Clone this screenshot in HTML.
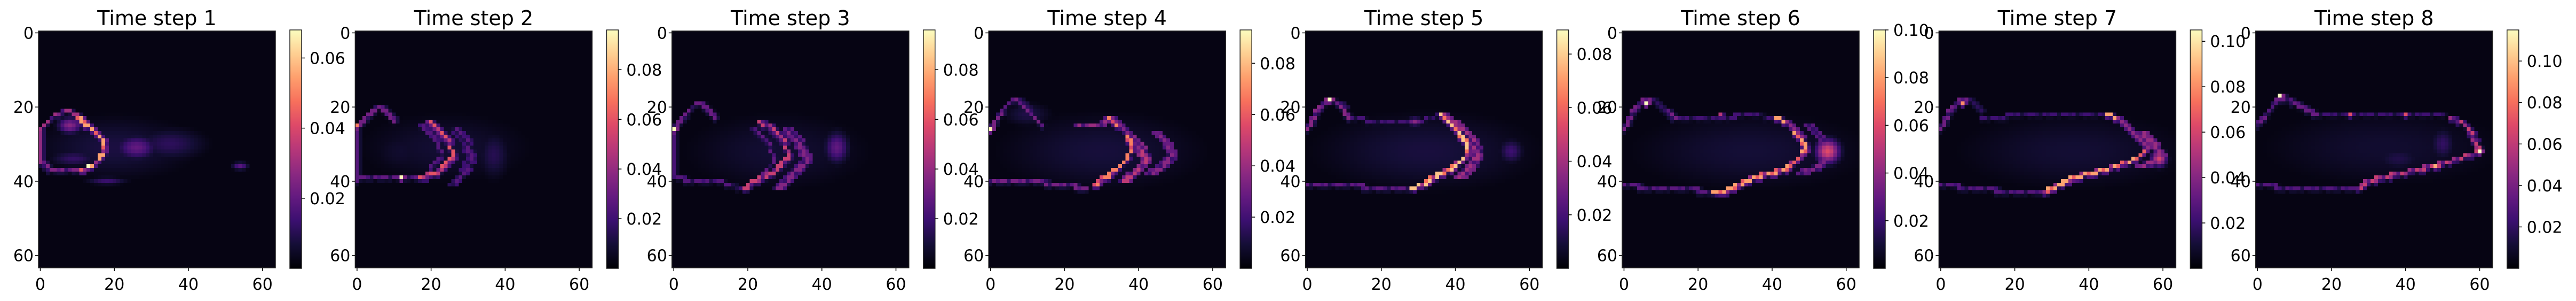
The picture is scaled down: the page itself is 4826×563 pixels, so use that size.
<!DOCTYPE html>
<html><head><meta charset="utf-8">
<style>
html,body{margin:0;padding:0;background:#fff;}
#root{position:relative;width:4826px;height:563px;overflow:hidden;background:#fff;font-family:"DejaVu Sans","Liberation Sans",sans-serif;}
canvas.hm{position:absolute;image-rendering:pixelated;}
.cb{position:absolute;}
svg{position:absolute;left:0;top:0;}
</style></head>
<body>
<div id="root">
<svg id="ov" width="4826" height="563"></svg>
</div>
<script>
// ---- data ----
const titles = ["Time step 1","Time step 2","Time step 3","Time step 4","Time step 5","Time step 6","Time step 7","Time step 8"];
const cbMax = [0.068,0.096,0.096,0.093,0.089,0.100,0.105,0.115];
const cbTicks = [[0.02,0.04,0.06],[0.02,0.04,0.06,0.08],[0.02,0.04,0.06,0.08],[0.02,0.04,0.06,0.08],[0.02,0.04,0.06,0.08],[0.02,0.04,0.06,0.08,0.10],[0.02,0.04,0.06,0.08,0.10],[0.02,0.04,0.06,0.08,0.10]];
const axisTicks = [0,20,40,60];
// polylines: [value, width, [[col,row],...]]
const lines1 = [
 [0.055,1,[[10,23],[13,25],[15,27],[17,29],[17,32],[16,34],[14,36],[11,37]]],
 [0.030,1,[[0,26],[2,24],[4,22],[7,21],[10,22]]],
 [0.025,1,[[0,34],[2,37],[6,37],[11,37]]],
 [0.028,1,[[0,26],[0,35]]],
 [0.068,1,[[13,36],[13,36]]]
];
const blobs1 = [[8,25,3,2,0.026],[26,31,5,3,0.02],[35,30,9,4,0.011],[18,40,5,1,0.013],[54,36,2,1,0.018],[20,31,20,8,0.008],[9,34,6,2,0.012]];
const lines2 = [
 [0.032,1,[[0,26],[3,22],[6,20],[8,21],[10,24]]],
 [0.060,1,[[19,24],[22,26],[25,30],[26,33],[24,36],[21,38],[17,39]]],
 [0.025,1,[[17,25],[21,28],[23,33],[20,37]]],
 [0.028,1,[[0,39],[5,39],[12,39],[17,39]]],
 [0.095,1,[[12,39],[12,39]]],
 [0.025,1,[[0,25],[0,40]]],
 [0.070,1,[[0,25],[0,25]]],
 [0.026,2,[[27,26],[30,30],[31,34],[29,38],[26,41]]]
];
const blobs2 = [[37,33,4,6,0.014],[24,31,22,9,0.009],[12,32,8,6,0.008]];
const lines3 = [
 [0.030,1,[[0,26],[3,22],[6,19],[8,19],[11,23]]],
 [0.052,1,[[23,24],[27,26],[30,30],[31,33],[29,36],[26,38],[22,40],[19,42]]],
 [0.028,1,[[21,26],[26,30],[27,35],[23,39]]],
 [0.036,2,[[31,26],[34,30],[36,34],[33,38],[28,42]]],
 [0.025,1,[[0,39],[6,40],[12,40],[18,42]]],
 [0.022,1,[[0,26],[0,38]]],
 [0.095,1,[[0,26],[0,26]]]
];
const blobs3 = [[44,31,3,4,0.028],[28,32,24,10,0.009]];
const lines4 = [
 [0.032,1,[[0,26],[3,21],[6,18],[8,18],[11,22],[14,25]]],
 [0.040,2,[[24,25],[30,25],[32,23]]],
 [0.068,1,[[32,23],[35,25],[37,27],[38,31],[37,34],[34,37],[31,39],[28,41]]],
 [0.032,1,[[0,40],[10,40],[20,41],[26,42]]],
 [0.048,2,[[38,28],[41,31],[42,35],[39,38],[36,40]]],
 [0.036,2,[[45,27],[48,30],[49,33],[47,36],[43,38]]],
 [0.090,1,[[0,26],[0,26]]]
];
const blobs4 = [[30,32,26,10,0.01],[10,22,6,3,0.012]];
const lines5 = [
 [0.034,1,[[0,26],[3,20],[6,18],[9,19],[11,23]]],
 [0.089,1,[[6,18],[6,18]]],
 [0.078,1,[[36,22],[39,24],[41,27],[43,30],[43,33],[41,35],[38,37],[34,39],[31,41],[28,42]]],
 [0.020,1,[[11,23],[20,24],[30,24],[36,22]]],
 [0.040,2,[[40,24],[44,28],[46,32],[45,36],[41,39]]],
 [0.026,1,[[0,41],[10,41],[20,42],[28,42]]]
];
const blobs5 = [[55,32,3,3,0.018],[29,24,2,1,0.035],[32,32,28,10,0.01]];
const lines6 = [
 [0.034,1,[[0,26],[3,20],[6,18],[8,18],[11,21],[14,23]]],
 [0.100,1,[[6,19],[6,19]]],
 [0.022,1,[[14,23],[25,23],[35,22],[40,23]]],
 [0.050,1,[[26,22],[26,22]]],
 [0.080,1,[[41,23],[44,24],[46,26],[48,29],[49,31],[48,33],[46,35],[43,37],[39,38],[35,39],[31,41],[27,43],[24,43]]],
 [0.036,2,[[50,25],[54,29],[56,33],[53,36],[48,38]]],
 [0.028,1,[[0,41],[8,42],[16,42],[24,43]]]
];
const blobs6 = [[55,32,3,3,0.06],[34,32,30,10,0.01]];
const lines7 = [
 [0.034,1,[[0,26],[3,20],[6,18],[8,18],[11,21]]],
 [0.080,1,[[6,19],[6,19]]],
 [0.022,1,[[11,23],[25,22],[40,22],[45,22]]],
 [0.085,1,[[45,22],[48,23],[50,25],[52,27],[54,29],[56,31],[55,32],[53,34],[50,35],[47,36],[44,37],[40,38],[36,39],[32,41],[28,43]]],
 [0.045,2,[[55,27],[58,31],[60,33],[58,35],[54,36]]],
 [0.028,1,[[0,41],[10,42],[20,43],[28,43]]]
];
const blobs7 = [[59,34,2,2,0.06],[36,32,30,10,0.01]];
const lines8 = [
 [0.036,1,[[0,25],[2,22],[4,20],[6,17],[8,18],[12,20],[16,22]]],
 [0.115,1,[[6,17],[6,17]]],
 [0.024,1,[[16,22],[25,22],[35,22],[40,22],[50,22]]],
 [0.070,1,[[25,22],[25,22]]],
 [0.070,1,[[40,22],[40,22]]],
 [0.062,1,[[52,23],[55,24],[57,26],[58,28],[59,30],[60,32],[57,33],[54,34],[51,35],[47,36],[43,37],[38,38],[34,39],[30,40],[27,42]]],
 [0.115,1,[[60,32],[60,32]]],
 [0.095,1,[[48,36],[48,36]]],
 [0.030,1,[[0,41],[10,42],[20,42],[27,42]]]
];
const blobs8 = [[50,30,3,4,0.02],[38,34,6,3,0.015],[34,31,32,10,0.01]];
const allLines = [lines1,lines2,lines3,lines4,lines5,lines6,lines7,lines8];
const allBlobs = [blobs1,blobs2,blobs3,blobs4,blobs5,blobs6,blobs7,blobs8];

// ---- layout ----
const N=64, X0=72, PERIOD=593.4, IW=444, IH=443, IY=58, CBOFF=471, CBW=22, CBY=56, CBH=446;
const magma=[[0,0,0,4],[0.1,20,14,54],[0.2,59,15,112],[0.3,100,26,128],[0.4,140,41,129],[0.5,183,55,121],[0.6,222,73,104],[0.7,247,112,92],[0.8,254,159,109],[0.9,254,207,146],[1,252,253,191]];
function cmap(t){t=Math.max(0,Math.min(1,t));for(let i=1;i<magma.length;i++){if(t<=magma[i][0]){const a=magma[i-1],b=magma[i];const f=(t-a[0])/(b[0]-a[0]);return [0,1,2].map(k=>Math.round(a[k+1]+(b[k+1]-a[k+1])*f));}}return magma[magma.length-1].slice(1);}
const NS="http://www.w3.org/2000/svg";
const ov=document.getElementById('ov');
const root=document.getElementById('root');
function sv(tag,attrs,txt){const e=document.createElementNS(NS,tag);for(const k in attrs)e.setAttribute(k,attrs[k]);if(txt!==undefined)e.textContent=txt;ov.appendChild(e);return e;}

for(let p=0;p<8;p++){
  const field=new Float32Array(N*N).fill(0.003*cbMax[p]/0.1);
  const set=(c,r,v)=>{c=Math.round(c);r=Math.round(r);if(c<0||r<0||c>=N||r>=N)return;if(v>field[r*N+c])field[r*N+c]=v;};
  allBlobs[p].forEach(b=>{for(let r=0;r<N;r++)for(let c=0;c<N;c++){const dx=(c-b[0])/b[2],dy=(r-b[1])/b[3];const v=b[4]*Math.exp(-(dx*dx+dy*dy));if(v>field[r*N+c])field[r*N+c]=v;}});
  allLines[p].forEach(L=>{const v=L[0],w=L[1],pts=L[2];
    const put=(x,y,val)=>{const c=Math.round(x),r=Math.round(y);const m=((c*7+r*3)%5===0)?0.5:(((c+r)%3===0)?0.8:1);set(c,r,pts.length<=2&&pts[0][0]===pts[1][0]?val:val*m);};
    for(let i=0;i<Math.max(1,pts.length-1);i++){const a=pts[i],b=pts[Math.min(i+1,pts.length-1)];const len=Math.max(1,Math.hypot(b[0]-a[0],b[1]-a[1]));for(let s=0;s<=len*4;s++){const f=s/(len*4);const x=a[0]+(b[0]-a[0])*f,y=a[1]+(b[1]-a[1])*f;put(x,y,v);if(w>1){put(x-1,y,v*0.75);put(x+1,y,v*0.75);}else{put(x+1,y,v*0.35);put(x,y+1,v*0.3);}}}});
  const x0=X0+p*PERIOD;
  const cv=document.createElement('canvas');cv.width=N;cv.height=N;cv.className='hm';
  cv.style.left=x0+'px';cv.style.top=IY+'px';cv.style.width=IW+'px';cv.style.height=IH+'px';
  
  
  root.insertBefore(cv,ov);
  const ctx=cv.getContext('2d');const img=ctx.createImageData(N,N);
  for(let i=0;i<N*N;i++){const c=cmap(field[i]/cbMax[p]);img.data[i*4]=c[0];img.data[i*4+1]=c[1];img.data[i*4+2]=c[2];img.data[i*4+3]=255;}
  ctx.putImageData(img,0,0);
  const cb=document.createElement('div');cb.className='cb';
  const cbx=x0+CBOFF;
  cb.style.left=cbx+'px';cb.style.top=CBY+'px';cb.style.width=CBW+'px';cb.style.height=CBH+'px';
  cb.style.background='linear-gradient(to top,'+magma.map(m=>'rgb('+m[1]+','+m[2]+','+m[3]+') '+(m[0]*100)+'%').join(',')+')';
  
  
  root.insertBefore(cb,ov);
  const fr=sv('rect',{x:x0,y:IY,width:IW,height:IH,fill:'none',stroke:'#222',"stroke-width":1.5});
  
  const cf=sv('rect',{x:cbx,y:CBY,width:CBW,height:CBH,fill:'none',stroke:'#222',"stroke-width":1.5});
  
  const t=sv('text',{x:x0+IW/2,y:47,"text-anchor":"middle","font-size":38,fill:'#000'},titles[p]);
  
  const cw=IW/N;
  axisTicks.forEach(v=>{
    const yy=IY+(v+0.5)*cw, xx=x0+(v+0.5)*cw;
    sv('line',{x1:x0-6,y1:yy,x2:x0,y2:yy,stroke:'#000',"stroke-width":1.5});
    const yl=sv('text',{x:x0-9,y:yy+11,"text-anchor":"end","font-size":30,fill:'#000'},String(v));
    
    sv('line',{x1:xx,y1:IY+IH,x2:xx,y2:IY+IH+6,stroke:'#000',"stroke-width":1.5});
    const xl=sv('text',{x:xx,y:IY+IH+41,"text-anchor":"middle","font-size":30,fill:'#000'},String(v));
    
  });
  cbTicks[p].forEach(v=>{
    const yy=CBY+CBH-(v/cbMax[p])*CBH;
    sv('line',{x1:cbx+CBW,y1:yy,x2:cbx+CBW+6,y2:yy,stroke:'#000',"stroke-width":1.5});
    const cl=sv('text',{x:cbx+CBW+15,y:yy+11,"font-size":30,fill:'#000'},v.toFixed(2));
    
  });
}
</script>
</body></html>
